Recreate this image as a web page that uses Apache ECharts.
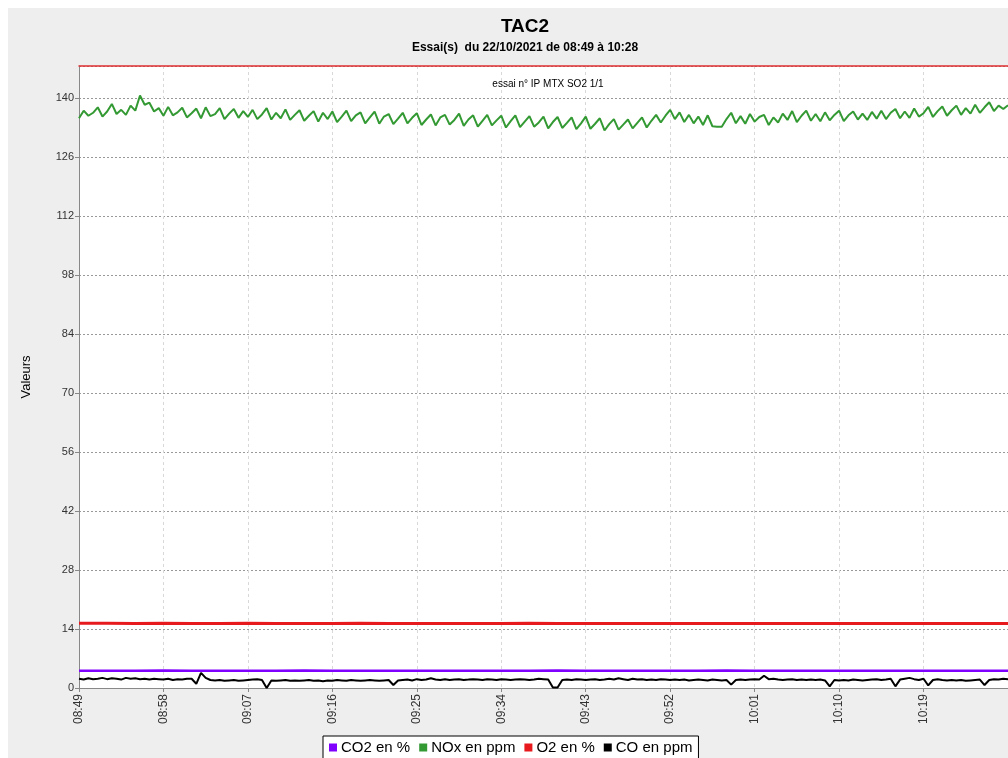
<!DOCTYPE html>
<html>
<head>
<meta charset="utf-8">
<script src="https://cdn.jsdelivr.net/npm/echarts@6/dist/echarts.min.js"></script>
<style>
  html, body { margin: 0; padding: 0; background: #fff; overflow: hidden; }
  #chart { position: absolute; left: 8px; top: 8px; width: 1000px; height: 750px; background: #eeeeee; }
</style>
</head>
<body>
<div id="chart"></div>
<script>
// time base: minutes after 08:49
var START_MIN = 8 * 60 + 49;
var FAST_STEP = 0.5;   // NOx / CO sampled every 30 s
var SLOW_STEP = 3;     // CO2 / O2 sampled every 3 min

var seriesNames = ['CO2 en %', 'NOx en ppm', 'O2 en %', 'CO en ppm'];
var seriesColors = ['#8000ff', '#339933', '#e8191c', '#000000'];

var noxValues = [
  135.2, 137.0, 135.8, 136.5, 137.8, 135.6,
  136.8, 138.6, 136.2, 137.2, 136.0, 138.2,
  137.0, 140.6, 138.4, 138.9, 136.8, 137.6,
  135.8, 137.9, 135.9, 136.6, 137.7, 135.4,
  136.4, 137.5, 135.2, 137.8, 135.7, 136.2,
  137.6, 135.0, 136.3, 137.4, 135.3, 136.9,
  135.5, 137.2, 135.0, 136.1, 137.6, 134.9,
  136.5, 135.2, 137.3, 134.8, 136.0, 137.1,
  134.6, 135.8, 136.9, 134.4, 136.5, 135.0,
  136.8, 134.3, 135.6, 137.0, 134.5, 135.9,
  136.6, 134.0, 135.4, 136.8, 133.9, 135.6,
  136.2, 133.8, 135.1, 136.5, 134.0, 135.3,
  136.4, 133.6, 134.9, 136.1, 133.5, 135.4,
  136.0, 133.7, 134.8, 136.3, 133.4, 134.9,
  135.9, 133.2, 134.6, 136.0, 133.5, 134.7,
  135.8, 133.0, 134.5, 135.9, 133.1, 134.4,
  135.7, 133.2, 134.2, 135.6, 132.8, 134.3,
  135.5, 132.9, 134.1, 135.4, 132.6, 134.0,
  135.6, 132.7, 133.9, 135.2, 132.3, 133.8,
  135.0, 132.5, 133.7, 134.9, 132.8, 134.1,
  135.4, 133.0, 134.6, 136.0, 134.2, 135.8,
  137.2, 135.0, 136.6, 134.3, 136.0, 134.0,
  135.6, 133.6, 135.9, 133.3, 133.2, 133.2,
  135.0, 136.5, 134.0, 135.7, 133.9, 136.2,
  134.4, 135.5, 136.0, 133.6, 135.4, 134.2,
  136.3, 134.8, 136.9, 134.3, 135.8, 137.0,
  134.6, 136.2, 134.5, 136.6, 134.7, 136.0,
  137.0, 134.5, 135.9, 136.8, 134.9, 136.3,
  134.8, 136.7, 135.1, 137.0, 135.0, 136.5,
  137.4, 135.2, 136.8, 135.3, 137.5, 135.6,
  136.4, 137.9, 135.5, 136.9, 138.0, 135.8,
  137.1, 138.2, 136.0, 137.6, 136.3, 138.4,
  136.5, 137.8, 139.0, 136.9, 138.2, 137.4,
  138.3
];

var coValues = [
  2.2, 2.0, 2.3, 2.1, 2.2, 2.4,
  2.1, 2.3, 2.2, 2.0, 2.4, 2.2,
  2.3, 2.1, 2.2, 2.0, 2.2, 2.1,
  2.0, 2.2, 1.9, 2.1, 2.0, 2.2,
  2.2, 1.0, 3.6, 2.4, 1.9, 1.8,
  1.9, 1.7, 1.8, 1.9, 1.7, 1.8,
  1.9, 2.0, 2.1, 1.9, 0.0, 1.8,
  1.7, 1.8, 1.9, 1.7, 1.8, 1.7,
  1.8, 1.9, 1.7, 1.8, 1.6, 1.8,
  1.7, 1.9, 1.8, 1.7, 1.9, 1.8,
  1.7, 1.8, 1.9, 1.8, 1.7, 1.8,
  1.9, 0.7, 1.8, 1.9, 2.0, 1.8,
  2.1, 1.9, 2.0, 2.3, 2.0, 1.9,
  2.1, 1.9, 2.0, 2.1, 1.9, 2.0,
  2.1, 2.0, 1.9, 2.1, 2.0, 1.9,
  2.1, 2.0, 1.9, 2.0, 2.1, 2.0,
  1.9, 2.0, 2.2, 2.1, 2.0, 0.1,
  0.1, 1.9, 2.0, 1.9, 2.1, 2.0,
  1.9, 2.0, 2.1, 1.9, 2.0, 2.2,
  2.0, 2.3, 2.1, 1.9, 2.2, 2.0,
  2.1, 1.9, 2.0, 1.9, 2.1, 2.0,
  1.9, 2.0, 1.9, 2.0, 1.8, 1.9,
  2.0, 1.9, 1.8, 2.0, 1.9, 1.8,
  1.9, 0.8, 1.9, 2.0, 1.9, 2.0,
  2.1, 2.0, 2.9, 2.1, 2.2, 2.0,
  1.9, 2.0, 2.1, 1.9, 2.0, 1.9,
  2.0, 1.9, 2.0, 1.8, 0.4, 1.9,
  1.8, 1.9, 1.8, 2.0, 1.9, 1.8,
  1.9, 2.0, 2.1, 1.9, 2.0, 2.2,
  0.4, 2.0, 2.2, 2.4, 2.1, 1.9,
  2.2, 0.6, 1.9, 2.1, 1.9, 1.8,
  1.9, 1.8, 1.9, 1.7, 1.8, 1.9,
  2.0, 0.7, 1.9, 2.1, 2.0, 2.2,
  2.1
];

var co2Values = [
  4.1, 4.1, 4.1, 4.15, 4.1, 4.1, 4.1, 4.1, 4.15, 4.1, 4.1, 4.1,
  4.1, 4.1, 4.1, 4.1, 4.1, 4.15, 4.1, 4.1, 4.1, 4.1, 4.1, 4.15,
  4.1, 4.1, 4.1, 4.1, 4.1, 4.1, 4.1, 4.1, 4.1, 4.1
];

var o2Values = [
  15.35, 15.35, 15.3, 15.35, 15.3, 15.3, 15.35, 15.3, 15.3, 15.3, 15.35, 15.3,
  15.3, 15.3, 15.3, 15.3, 15.35, 15.3, 15.3, 15.3, 15.3, 15.3, 15.3, 15.3,
  15.3, 15.3, 15.3, 15.3, 15.3, 15.3, 15.3, 15.3, 15.3, 15.3
];

var Y_MAX = 147.6;
var Y_INTERVAL = 14;
var X_MAX = 99;
var X_INTERVAL = 9;

function toPairs(values, step) {
  return values.map(function (v, i) { return [i * step, v]; });
}

function fmtTime(v) {
  var t = Math.round(START_MIN + v);
  var h = Math.floor(t / 60), m = t % 60;
  return (h < 10 ? '0' : '') + h + ':' + (m < 10 ? '0' : '') + m;
}

var chart = echarts.init(document.getElementById('chart'));

chart.setOption({
  animation: false,
  textStyle: { fontFamily: 'Arial, "Liberation Sans", sans-serif' },
  title: [{
    text: 'TAC2',
    subtext: 'Essai(s)  du 22/10/2021 de 08:49 à 10:28',
    left: 512,
    textAlign: 'center',
    top: 4,
    itemGap: 6,
    textStyle: { fontSize: 19, fontWeight: 'bold', color: '#000' },
    subtextStyle: { fontSize: 12, fontWeight: 'bold', color: '#000' }
  }, {
    text: 'essai n° IP MTX SO2 1/1',
    left: 535,
    textAlign: 'center',
    top: 66,
    textStyle: { fontSize: 10, fontWeight: 'normal', color: '#000' }
  }],
  legend: {
    left: 315,
    top: 728,
    data: seriesNames,
    icon: 'rect',
    itemWidth: 8,
    itemHeight: 8,
    itemGap: 9,
    padding: [4, 6],
    backgroundColor: '#fff',
    borderColor: '#000',
    borderWidth: 1,
    borderRadius: 0,
    textStyle: { fontSize: 15, color: '#000', padding: [0, 0, 0, -1] }
  },
  grid: {
    left: 71,
    right: 0,
    top: 58,
    bottom: 70,
    show: true,
    backgroundColor: '#fff',
    borderWidth: 0
  },
  xAxis: [{
    type: 'value',
    min: 0,
    max: X_MAX,
    interval: X_INTERVAL,
    axisLine: { lineStyle: { color: '#888' } },
    axisTick: { length: 4, lineStyle: { color: '#888' } },
    axisLabel: {
      rotate: 90,
      margin: 6,
      fontSize: 12,
      color: '#333',
      showMaxLabel: false,
      formatter: fmtTime
    },
    splitLine: { show: true, lineStyle: { color: '#d8d8d8', type: [3, 3] } }
  }, {
    type: 'value',
    position: 'top',
    min: 0,
    max: X_MAX,
    axisLine: { show: true, lineStyle: { color: '#e03030', width: 1.5 } },
    axisTick: { show: false },
    axisLabel: { show: false },
    splitLine: { show: false }
  }],
  yAxis: {
    type: 'value',
    min: 0,
    max: Y_MAX,
    interval: Y_INTERVAL,
    name: 'Valeurs',
    nameLocation: 'middle',
    nameGap: 46,
    nameTextStyle: { fontSize: 13, color: '#000' },
    axisLine: { show: true, lineStyle: { color: '#888' } },
    axisTick: { show: true, length: 4, lineStyle: { color: '#888' } },
    axisLabel: { fontSize: 11, color: '#333', margin: 5, showMaxLabel: false },
    splitLine: { show: true, lineStyle: { color: '#999', type: [2, 2] } }
  },
  series: [{
    name: seriesNames[0],
    type: 'line',
    showSymbol: false,
    data: toPairs(co2Values, SLOW_STEP),
    itemStyle: { color: seriesColors[0] },
    lineStyle: { color: seriesColors[0], width: 2.5 }
  }, {
    name: seriesNames[1],
    type: 'line',
    showSymbol: false,
    data: toPairs(noxValues, FAST_STEP),
    itemStyle: { color: seriesColors[1] },
    lineStyle: { color: seriesColors[1], width: 2 }
  }, {
    name: seriesNames[2],
    type: 'line',
    showSymbol: false,
    data: toPairs(o2Values, SLOW_STEP),
    itemStyle: { color: seriesColors[2] },
    lineStyle: { color: seriesColors[2], width: 3 }
  }, {
    name: seriesNames[3],
    type: 'line',
    showSymbol: false,
    data: toPairs(coValues, FAST_STEP),
    itemStyle: { color: seriesColors[3] },
    lineStyle: { color: seriesColors[3], width: 2 }
  }]
});
</script>
</body>
</html>
